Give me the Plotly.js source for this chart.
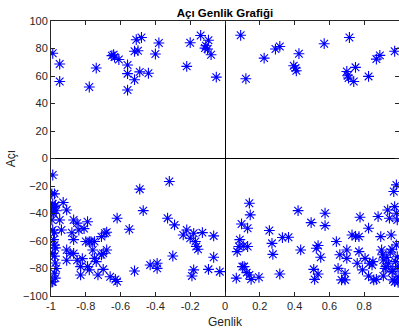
<!DOCTYPE html>
<html>
<head>
<meta charset="utf-8">
<script src="https://cdn.plot.ly/plotly-3.0.1.min.js"></script>
<style>html,body{margin:0;padding:0;overflow:hidden;background:#fff}</style>
</head>
<body>
<div id="chart" style="width:399px;height:334px"></div>
<script>
// Genlik (amplitude) values
const genlik = [
  // upper left
  -0.99,-0.95,-0.95,-0.78,-0.74,-0.65,-0.64,-0.635,-0.61,-0.56,-0.56,-0.56,-0.52,-0.52,-0.50,-0.51,-0.48,-0.49,-0.44,-0.40,-0.38,-0.22,-0.20,-0.14,-0.115,-0.10,-0.095,-0.11,-0.08,-0.05,
  // upper right
  0.09,0.12,0.225,0.29,0.315,0.425,0.395,0.405,0.41,0.57,0.715,0.70,0.705,0.71,0.74,0.75,0.825,0.87,0.89,0.975,
  // lower left
  -0.99,-0.995,-0.98,-0.99,-0.98,-0.995,-0.975,-0.995,-0.985,-0.97,-0.995,-0.99,-0.98,-0.985,-0.98,-0.975,-0.99,-0.98,-0.975,-0.97,-0.98,-0.975,-0.99,-0.995,
  -0.93,-0.91,-0.94,-0.95,-0.91,-0.91,-0.89,-0.87,-0.88,-0.87,-0.85,-0.84,-0.81,-0.79,-0.87,-0.85,-0.83,-0.83,-0.82,-0.80,-0.78,-0.77,-0.75,-0.76,-0.75,-0.74,-0.79,-0.78,-0.73,
  -0.71,-0.69,-0.68,-0.71,-0.70,-0.68,-0.70,-0.66,-0.63,-0.62,-0.62,-0.55,-0.52,-0.49,-0.47,-0.43,-0.39,-0.39,-0.32,-0.33,-0.29,-0.30,-0.24,-0.22,-0.20,-0.18,-0.17,-0.165,-0.155,-0.13,-0.18,-0.19,-0.095,-0.065,-0.065,-0.03,
  // lower right
  0.065,0.07,0.08,0.085,0.095,0.105,0.10,0.11,0.13,0.13,0.14,0.145,0.125,0.14,0.15,0.195,0.255,0.27,0.275,0.315,0.33,0.365,0.42,0.435,0.495,0.51,0.515,0.525,0.535,0.535,0.55,0.575,0.575,
  0.64,0.65,0.66,0.67,0.69,0.70,0.70,0.69,0.73,0.75,0.77,0.776,0.77,0.76,0.79,0.805,0.83,0.845,0.85,0.825,0.825,0.855,0.87,0.88,0.895,0.90,0.905,0.91,0.925,0.91,
  0.935,0.945,0.955,0.94,0.96,0.965,0.97,0.985,0.975,0.985,0.99,0.985,0.99,0.995,0.975,0.995,0.995,0.965,0.95,0.93,0.92,0.96,0.98
];
// Açı (angle) values, degrees
const aci = [
  76.5,68.7,56,52,65.8,74.8,75.5,73.8,72,68,61.7,49.8,57.3,78,78.4,86.4,88,63,62,76,84,67,84.2,89.5,80.3,79.6,86,82,75.5,59.2,
  89.6,58,73,79.6,81.5,76.2,67.5,65.8,63.8,83.5,88,63.3,60.2,58.5,56,66.3,59.7,72.3,75,78,
  -12,-25.7,-25.7,-33,-35,-36,-34,-39,-40,-38,-44.7,-52,-54,-59,-63,-65,-69,-71,-76,-80,-83.5,-87,-89.6,-89.8,
  -32,-37.4,-52,-44.7,-66.5,-74,-69,-59,-54,-44.7,-47,-52,-51,-46,-69,-74,-78.6,-84.7,-72.8,-60.4,-60.4,-60.4,-60.4,-66.5,-72.6,-75,-78.6,-81,-84.7,
  -56.8,-54.4,-53.6,-70,-69,-66.5,-80.6,-86,-88,-89.5,-43.4,-51.5,-81.8,-22.3,-37.9,-77.4,-76.2,-79.9,-16.7,-43.4,-48.3,-70.9,-55.6,-52,-58,-54.4,-60.4,-64,-66,-53.9,-81,-85.4,-80.6,-56.3,-71.8,-82.3,
  -87,-67.7,-64,-59,-47.6,-63.6,-78.6,-78.6,-64,-50.7,-32.5,-41,-83,-84.7,-87.9,-86.4,-52.4,-61.7,-69.7,-84,-57.5,-57.3,-37.9,-66.5,-46.6,-80.6,-87.9,-65.3,-63.3,-84,-71.8,-39.8,-48.8,
  -60.4,-79.9,-70,-88.3,-88.3,-72.6,-66.5,-83.5,-55.6,-56.8,-56.8,-42.7,-67.7,-76.2,-81,-72.6,-76.2,-77.4,-75,-85.4,-50.7,-88.3,-87.9,-42.2,-56.8,-66.5,-70,-73.8,-78.6,-85.4,
  -37.4,-43.4,-55.6,-76.2,-82.3,-88.3,-24,-19.2,-35,-39.8,-44.7,-62.9,-71.4,-78.6,-89.6,-86,-90,-81,-68,-72,-80,-66,-75
];

const fam = 'Liberation Sans, Arial, sans-serif';
const tickFont = {family: fam, size: 11, color: '#262626'};

Plotly.newPlot('chart', [{
  x: genlik,
  y: aci,
  type: 'scatter',
  mode: 'markers',
  marker: {symbol: 'asterisk-open', size: 9, color: 'rgb(0,0,255)', line: {color: 'rgb(0,0,255)', width: 1.1}},
  hoverinfo: 'skip',
  cliponaxis: true
}], {
  width: 399, height: 334,
  margin: {l: 51, r: 0, t: 21, b: 38, pad: 0},
  paper_bgcolor: '#fff', plot_bgcolor: '#fff',
  showlegend: false,
  title: {text: '<b>Açı Genlik Grafiği</b>', font: {family: fam, size: 11.5, color: '#000'}, x: 0.5, xanchor: 'center', y: 0.962, yanchor: 'middle', xref: 'paper'},
  xaxis: {
    range: [-1, 1], tickvals: [-1,-0.8,-0.6,-0.4,-0.2,0,0.2,0.4,0.6,0.8,1],
    ticktext: ['-1','-0.8','-0.6','-0.4','-0.2','0','0.2','0.4','0.6','0.8','1'],
    ticks: 'inside', ticklen: 4, tickcolor: '#262626', tickwidth: 1,
    showline: true, linecolor: '#262626', linewidth: 1, mirror: 'ticks',
    showgrid: false, zeroline: true, zerolinecolor: '#000', zerolinewidth: 1,
    tickfont: tickFont,
    title: {text: 'Genlik', font: {family: fam, size: 12, color: '#262626'}, standoff: 6}
  },
  yaxis: {
    range: [-100, 100], tickvals: [-100,-80,-60,-40,-20,0,20,40,60,80,100],
    ticks: 'inside', ticklen: 4, tickcolor: '#262626', tickwidth: 1,
    showline: true, linecolor: '#262626', linewidth: 1, mirror: 'ticks',
    showgrid: false, zeroline: true, zerolinecolor: '#000', zerolinewidth: 1,
    tickfont: tickFont,
    title: {text: 'Açı', font: {family: fam, size: 12, color: '#262626'}, standoff: 4}
  }
}, {displayModeBar: false, staticPlot: true});
</script>
</body>
</html>
